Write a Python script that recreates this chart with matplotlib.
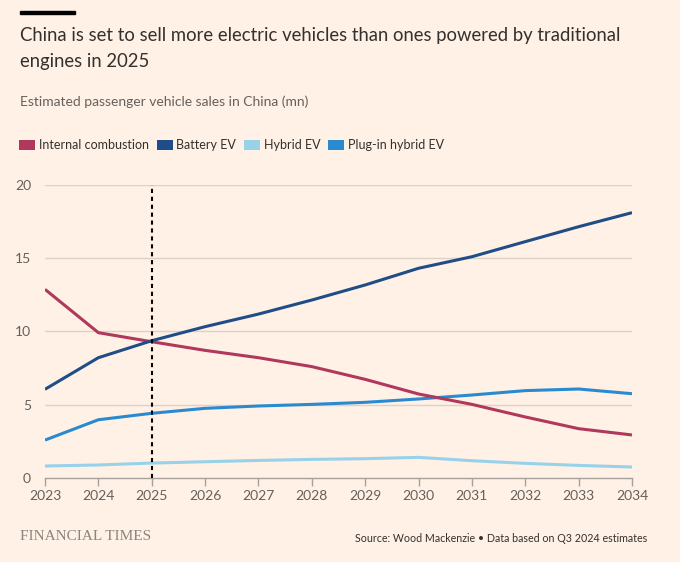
import matplotlib
matplotlib.use("Agg")
import matplotlib.pyplot as plt
from matplotlib.patches import Patch, Rectangle

years = [2023, 2024, 2025, 2026, 2027, 2028, 2029, 2030, 2031, 2032, 2033, 2034]
internal_combustion = [12.87, 9.91, 9.29, 8.70, 8.20, 7.59, 6.72, 5.72, 5.01, 4.15, 3.35, 2.92]
battery_ev = [6.04, 8.20, 9.36, 10.32, 11.18, 12.14, 13.17, 14.31, 15.10, 16.13, 17.15, 18.11]
hybrid_ev = [0.80, 0.87, 1.00, 1.09, 1.18, 1.25, 1.30, 1.39, 1.16, 0.98, 0.84, 0.73]
plugin_hybrid_ev = [2.57, 3.96, 4.40, 4.74, 4.90, 5.01, 5.15, 5.38, 5.65, 5.95, 6.06, 5.74]
series_names = ["Internal combustion", "Battery EV", "Hybrid EV", "Plug-in hybrid EV"]
y_ticks = [0, 5, 10, 15, 20]
marker_year = 2025

colors = ["#b0385c", "#1e4d87", "#98d2ea", "#2a8ad0"]
bg = "#fff1e5"
text_dark = "#33302e"
text_mid = "#66605c"
grid_c = "#dcd2c8"

plt.rcParams['font.family'] = ['Lato', 'DejaVu Sans']

fig = plt.figure(figsize=(6.8, 5.62), dpi=100, facecolor=bg)
W, H = 680, 562
ax = fig.add_axes([45 / W, 1 - 477.7 / H, (632 - 45) / W, (477.7 - 185) / H], facecolor=bg)

ax.set_xlim(years[0], years[-1])
ax.set_ylim(0, 20)
ax.set_xticks(years)
ax.set_yticks(y_ticks)
for yv in y_ticks[1:]:
    ax.axhline(yv, color=grid_c, lw=1, zorder=1)

data = [internal_combustion, battery_ev, hybrid_ev, plugin_hybrid_ev]
order = [2, 3, 0, 1]
for i in order:
    ax.plot(years, data[i], color=colors[i], lw=2.2, zorder=3, solid_capstyle='butt')

ax.plot([marker_year, marker_year], [0, 20], color="#000000", lw=1.5,
        linestyle=(0, (2.0, 1.8)), zorder=4)

for s in ["top", "right", "left"]:
    ax.spines[s].set_visible(False)
ax.spines["bottom"].set_color("#a8a09a")
ax.spines["bottom"].set_linewidth(1)
ax.tick_params(axis='x', length=6, width=1, color="#a8a09a", labelsize=10,
               labelcolor=text_mid, pad=3)
ax.tick_params(axis='y', length=0, labelsize=10, labelcolor=text_mid, pad=10)

# header
fig.patches.append(Rectangle((20 / W, 1 - 14 / H), 55 / W, 3.5 / H, transform=fig.transFigure,
                             color="#000000"))
fig.text(20 / W, 1 - 35 / H, "China is set to sell more electric vehicles than ones powered by traditional",
         fontsize=13.35, color=text_dark, va='center', ha='left')
fig.text(20 / W, 1 - 61 / H, "engines in 2025", fontsize=13.35, color=text_dark, va='center', ha='left')
fig.text(20 / W, 1 - 102 / H, "Estimated passenger vehicle sales in China (mn)", fontsize=10,
         color=text_mid, va='center', ha='left')

handles = [Patch(facecolor=c, edgecolor='none') for c in colors]
leg = fig.legend(handles, series_names, loc='center left', bbox_to_anchor=(19 / W, 1 - 145 / H),
                 ncol=4, frameon=False, fontsize=9.0, handlelength=1.3, handleheight=0.85,
                 handletextpad=0.3, columnspacing=0.6, borderaxespad=0, borderpad=0)
for t in leg.get_texts():
    t.set_color(text_dark)

# footer
fig.text(20 / W, 1 - 536 / H, "FINANCIAL TIMES", fontsize=11, color="#8c847e",
         family=["Liberation Serif", "DejaVu Serif"], va='center', ha='left')
fig.text(647 / W, 1 - 538 / H, "Source: Wood Mackenzie \u2022 Data based on Q3 2024 estimates",
         fontsize=7.7, color=text_dark, va='center', ha='right')

fig.savefig("out.png", dpi=100, facecolor=bg)
